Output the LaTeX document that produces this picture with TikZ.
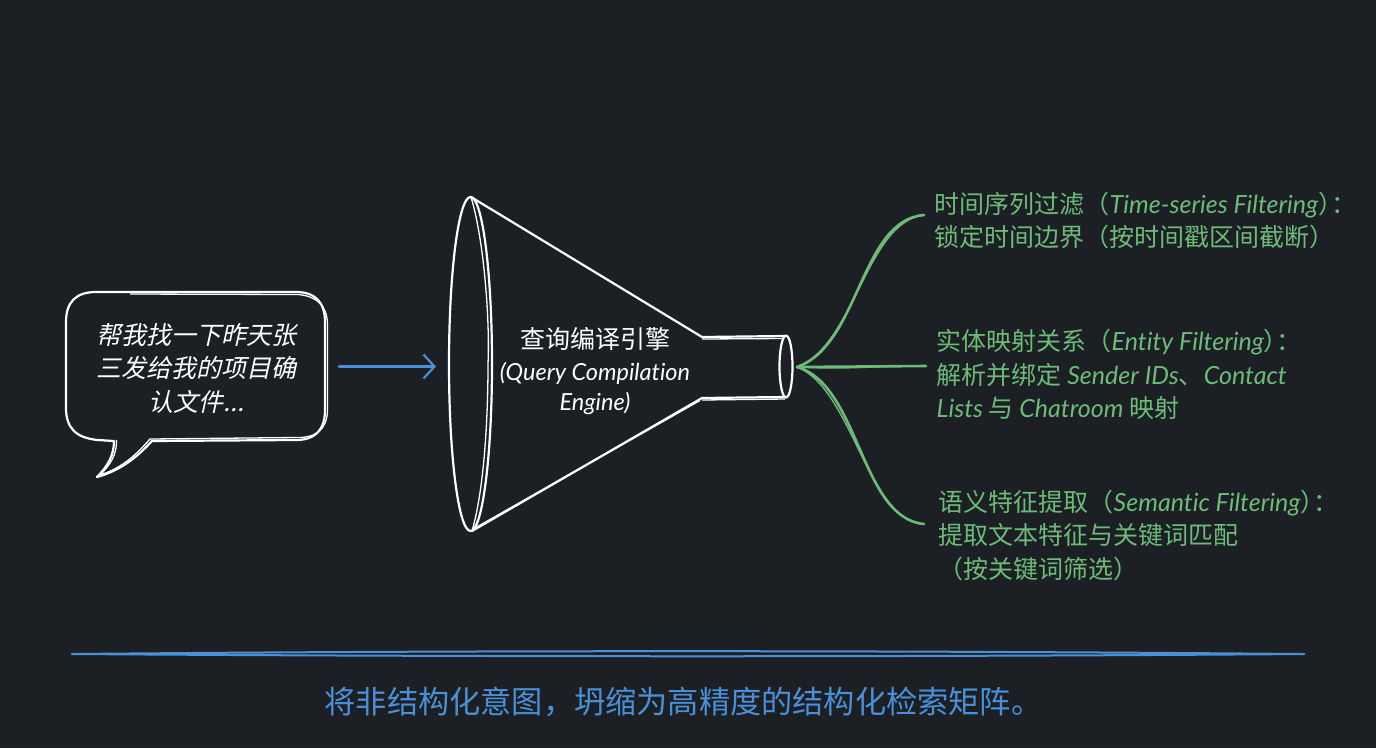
\documentclass[tikz,border=0pt]{standalone}
\usepackage{fontspec}
\setmainfont{Noto Sans CJK SC}
\newfontfamily\slantcjk[FakeSlant=0.22]{Noto Sans CJK SC}
\newfontfamily\handlat[ItalicFont=Lato Italic,Ligatures=NoCommon]{Lato}
\newcommand{\lat}[1]{{\handlat\itshape\fontsize{25}{33.5}\selectfont #1}}
\newcommand{\latsmall}[1]{{\handlat\itshape\fontsize{23.5}{33.5}\selectfont #1}}
\usetikzlibrary{arrows.meta}
\definecolor{bgdark}{HTML}{1C2024}
\definecolor{sketchgreen}{HTML}{6DBB78}
\definecolor{sketchblue}{HTML}{4A90D9}

\begin{document}
\begin{tikzpicture} [
  x=1pt,
  y=-1pt,
  white line/.style={draw=white,line width=2.2pt,line join=round},
  thin white/.style={draw=white,line width=1.3pt,line join=round},
  green line/.style={draw=sketchgreen,line width=2.6pt,line cap=round},
  thin green/.style={draw=sketchgreen,line width=1.4pt,line cap=round},
  blue line/.style={draw=sketchblue,line width=2pt,line cap=round},
  main text/.style={text=white,align=center,inner sep=0pt,font=\fontsize{25}{33.5}\selectfont},
  filter text/.style={text=sketchgreen,align=left,anchor=west,inner sep=0pt,font=\fontsize{25}{33.5}\selectfont},
  ]

  \fill[bgdark] (0,0) rectangle (1376,748);
  \useasboundingbox (0,0) rectangle (1376,748);

  \draw[white line]
    (96,292) -- (296,292) .. controls (315,292) and (325,302) .. (325,322)
    -- (325,410) .. controls (325,430) and (315,440) .. (296,440)
    -- (152,441) .. controls (138,456) and (122,470) .. (97,477)
    .. controls (108,466) and (114,455) .. (114,441)
    -- (98,440) .. controls (76,438) and (66,428) .. (66,408)
    -- (66,322) .. controls (66,302) and (76,292) .. (96,292) -- cycle;
  \draw[thin white]
    (130,294) -- (298,294.5) .. controls (316,296) and (327,305) .. (327.5,324)
    -- (327.5,412) .. controls (326,430) and (316,438) .. (296,437.5)
    -- (150,439) .. controls (136,455) and (122,468) .. (100,475)
    .. controls (110,465) and (117,455) .. (116.5,440);

  \node[main text] (bubble) at (196.5,368) {{\slantcjk 帮我找一下昨天张}\\{\slantcjk 三发给我的项目确}\\{\slantcjk 认文件...}};

  \coordinate (a1) at (339,366.5);
  \coordinate (a2) at (436,366.5);
  \draw[blue line, line width=3pt, -{Straight Barb[length=11pt,width=24pt,line width=2.2pt]}] (a1) -- (a2);

  \coordinate (f1) at (471,197);
  \coordinate (f2) at (472,531);
  \coordinate (f3) at (702,337);
  \coordinate (f4) at (702,398);
  \coordinate (f5) at (786,336);
  \coordinate (f6) at (786,397);

  \draw[white line] (470.5,364) ellipse [x radius=21.5pt, y radius=167pt];
  \draw[thin white] (f1) .. controls (484,240) and (490,320) .. (488,364)
    .. controls (488,420) and (484,490) .. (f2);
  \draw[white line] (f1) -- (f3) -- (f5);
  \draw[white line] (f2) -- (f4) -- (f6);
  \draw[thin white] (f2) -- ++(3,-3) -- (700,400.5);
  \draw[thin white] (702,339) -- (784,338.5);
  \draw[thin white] (702,400) -- (785,399);
  \draw[white line] (786,366.5) ellipse [x radius=6.5pt, y radius=31pt];

  \node[main text] (engine) at (595,371.5) {查询编译引擎\\[-2pt]\latsmall{(Query Compilation}\\[-3pt]\latsmall{Engine)}};

  \coordinate (fork) at (797,367);
  \coordinate (e1) at (924,215);
  \coordinate (e2) at (926,366);
  \coordinate (e3) at (924,524);

  \draw[green line] (fork) .. controls (860,345) and (860,220) .. (e1);
  \draw[thin green] (fork) .. controls (855,345) and (866,222) .. (e1);
  \draw[green line] (fork) -- (e2);
  \draw[thin green] (fork) .. controls (850,370) and (890,365) .. (e2);
  \draw[green line] (fork) .. controls (860,385) and (860,518) .. (e3);
  \draw[thin green] (fork) .. controls (852,388) and (868,522) .. (e3);

  \node[filter text] (t1) at (934.5,220.5) {时间序列过滤（\lat{Time-series Filtering}）\hspace{-12pt}：\\锁定时间边界（按时间戳区间截断）};
  \node[filter text] (t2) at (936.5,374.5) {实体映射关系（\lat{Entity Filtering}）\hspace{-12pt}：\\解析并绑定 \lat{Sender IDs}、\lat{Contact}\\\lat{Lists} 与 \lat{Chatroom} 映射};
  \node[filter text] (t3) at (938.5,535) {语义特征提取（\lat{Semantic Filtering}）\hspace{-12pt}：\\提取文本特征与关键词匹配\\（按关键词筛选）};

  \coordinate (l1) at (72,654);
  \coordinate (l2) at (1304,654);
  \draw[blue line] (l1) .. controls (500,657) and (900,657) .. (l2);
  \draw[blue line] (l1) .. controls (500,650) and (900,650.5) .. (l2);

  \node[text=sketchblue,inner sep=0pt,font=\fontsize{31.2}{36}\selectfont] (summary) at (683.5,702) {将非结构化意图，坍缩为高精度的结构化检索矩阵。};
\end{tikzpicture}
\end{document}
